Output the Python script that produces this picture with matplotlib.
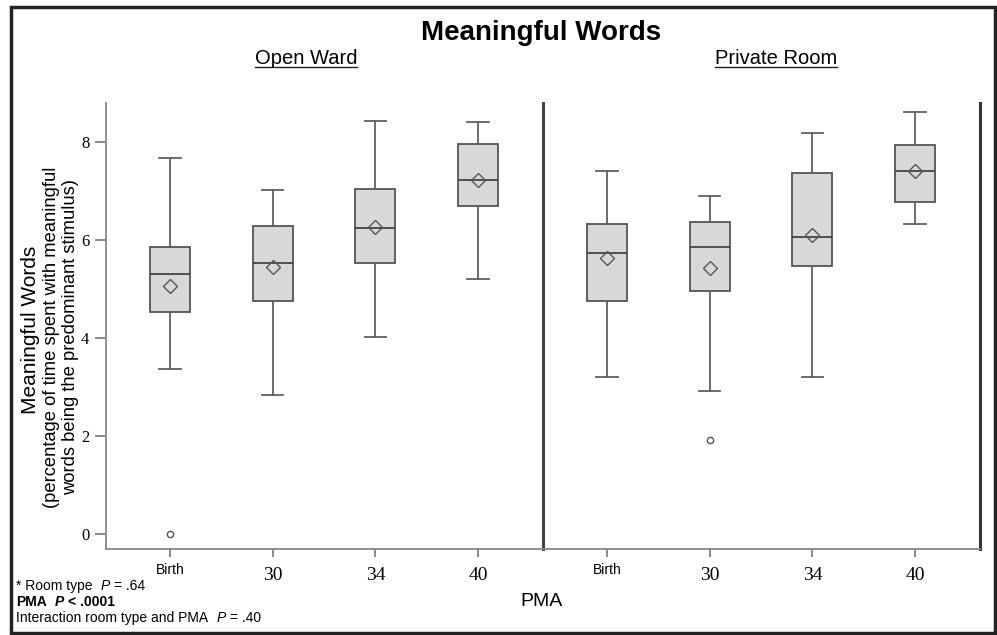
import matplotlib
matplotlib.use("Agg")
import matplotlib.pyplot as plt
from matplotlib.patches import Rectangle
from matplotlib.lines import Line2D

# --- data ---
pma_labels = ["Birth", "30", "34", "40"]
panels = ["Open Ward", "Private Room"]

ow_lo = [3.37, 2.84, 4.02, 5.21]
ow_q1 = [4.53, 4.77, 5.54, 6.70]
ow_med = [5.32, 5.53, 6.25, 7.23]
ow_q3 = [5.86, 6.30, 7.04, 7.97]
ow_hi = [7.68, 7.02, 8.44, 8.42]
ow_mean = [5.06, 5.45, 6.27, 7.23]
ow_fliers = [[0.0], [], [], []]

pr_lo = [3.20, 2.93, 3.20, 6.33]
pr_q1 = [4.77, 4.97, 5.48, 6.79]
pr_med = [5.74, 5.86, 6.07, 7.41]
pr_q3 = [6.33, 6.38, 7.37, 7.95]
pr_hi = [7.41, 6.91, 8.18, 8.61]
pr_mean = [5.64, 5.43, 6.11, 7.41]
pr_fliers = [[], [1.93], [], []]

W, H = 997, 635
SANS = "Liberation Sans"
SERIF = "Liberation Serif"
EDGE = "#555555"


def stats(lo, q1, med, q3, hi, mean, fliers):
    out = []
    for i in range(len(lo)):
        out.append(dict(whislo=lo[i], q1=q1[i], med=med[i], q3=q3[i],
                        whishi=hi[i], mean=mean[i], fliers=fliers[i]))
    return out


def draw_panel(ax, st):
    ax.bxp(st, positions=[1, 2, 3, 4], widths=0.39, capwidths=0.21,
           showmeans=True, patch_artist=True,
           boxprops=dict(facecolor="#d8d8da", edgecolor=EDGE, linewidth=1.3),
           medianprops=dict(color="#444444", linewidth=1.3),
           whiskerprops=dict(color="#606060", linewidth=1.3),
           capprops=dict(color="#606060", linewidth=1.3),
           meanprops=dict(marker="D", markersize=7.5, markerfacecolor="none",
                          markeredgecolor="#555555", markeredgewidth=1.0),
           flierprops=dict(marker="o", markersize=4.5, markerfacecolor="none",
                           markeredgecolor="#555555", markeredgewidth=1.0))
    ax.set_xlim(0.38, 4.63)
    ax.set_ylim(-0.3, 8.8)
    ax.set_xticks([1, 2, 3, 4])
    ax.set_xticklabels(pma_labels)
    ax.tick_params(axis="x", direction="out", length=6, width=1.2,
                   color="#777777", pad=4)
    for tick in ax.xaxis.get_major_ticks():
        lab = tick.label1
        if lab.get_text() == "Birth":
            lab.set_fontfamily(SANS)
            lab.set_fontsize(10)
        else:
            lab.set_fontfamily(SERIF)
            lab.set_fontsize(14)
            tick.set_pad(7)
    ax.spines["top"].set_visible(False)
    ax.spines["bottom"].set_color("#888888")
    ax.spines["bottom"].set_linewidth(1.3)


fig = plt.figure(figsize=(W / 100, H / 100), dpi=100)
fig.patch.set_facecolor("white")

ax1 = fig.add_axes([106 / W, 86 / H, 437 / W, 446 / H])
ax2 = fig.add_axes([543 / W, 86 / H, 437 / W, 446 / H])

draw_panel(ax1, stats(ow_lo, ow_q1, ow_med, ow_q3, ow_hi, ow_mean, ow_fliers))
draw_panel(ax2, stats(pr_lo, pr_q1, pr_med, pr_q3, pr_hi, pr_mean, pr_fliers))

ax1.set_yticks([0, 2, 4, 6, 8])
ax1.set_yticklabels(["0", "2", "4", "6", "8"], fontfamily=SERIF, fontsize=12)
ax1.tick_params(axis="y", direction="out", length=8, width=1.2,
                color="#777777", pad=4)
ax1.spines["left"].set_color("#888888")
ax1.spines["left"].set_linewidth(1.3)
ax1.spines["right"].set_visible(False)

ax2.set_yticks([])
ax2.spines["left"].set_color("#444444")
ax2.spines["left"].set_linewidth(2.2)
ax2.spines["right"].set_color("#333333")
ax2.spines["right"].set_linewidth(2.2)

# titles
fig.text(541 / W, 1 - 33 / H, "Meaningful Words", ha="center", va="center",
         fontfamily=SANS, fontweight="bold", fontsize=20)
heads = []
for name, xc in zip(panels, [306, 776]):
    heads.append(fig.text(xc / W, 1 - 58 / H, name, ha="center", va="center",
                          fontfamily=SANS, fontsize=14.5))

# y label
fig.text(30 / W, 1 - 330 / H, "Meaningful Words", rotation=90, ha="center",
         va="center", fontfamily=SANS, fontsize=15)
fig.text(61 / W, 1 - 337 / H,
         "(percentage of time spent with meaningful\nwords being the predominant stimulus)",
         rotation=90, ha="center", va="center", multialignment="center",
         fontfamily=SANS, fontsize=13.2, linespacing=1.12)

# x label
fig.text(541 / W, 1 - 602 / H, "PMA", ha="center", va="center",
         fontfamily=SANS, fontsize=14)


# footnotes with italic P
def rich_line(x, y, parts, size):
    s0, kw0 = parts[0]
    prev = fig.text(x / W, 1 - y / H, s0, ha="left", va="center",
                    fontfamily=SANS, fontsize=size, **kw0)
    for s, kw in parts[1:]:
        prev = ax1.annotate(s, xy=(1, 0.5), xycoords=prev, xytext=(kw.pop("gap", 3), 0),
                            textcoords="offset points", ha="left", va="center",
                            fontfamily=SANS, fontsize=size,
                            annotation_clip=False, **kw)


rich_line(16, 586, [("* Room type", {}), ("P", {"style": "italic", "gap": 6}),
                    ("= .64", {})], 10)
rich_line(16, 602, [("PMA", {"weight": "bold"}),
                    ("P", {"weight": "bold", "style": "italic", "gap": 6}),
                    ("< .0001", {"weight": "bold"})], 10)
rich_line(16, 618, [("Interaction room type and PMA", {}),
                    ("P", {"style": "italic", "gap": 6}), ("= .40", {})], 10)

# underline the panel headings
fig.canvas.draw()
for t in heads:
    bb = t.get_window_extent()
    yl = 1 - 67 / H
    fig.add_artist(Line2D([bb.x0 / W, bb.x1 / W], [yl, yl],
                          transform=fig.transFigure, color="#222222", lw=1.0))

# outer frame
fig.add_artist(Rectangle((11 / W, 2 / H), 984 / W, 626 / H,
                         transform=fig.transFigure, fill=False,
                         edgecolor="#222222", linewidth=2.5))

fig.savefig("out.png", dpi=100)
